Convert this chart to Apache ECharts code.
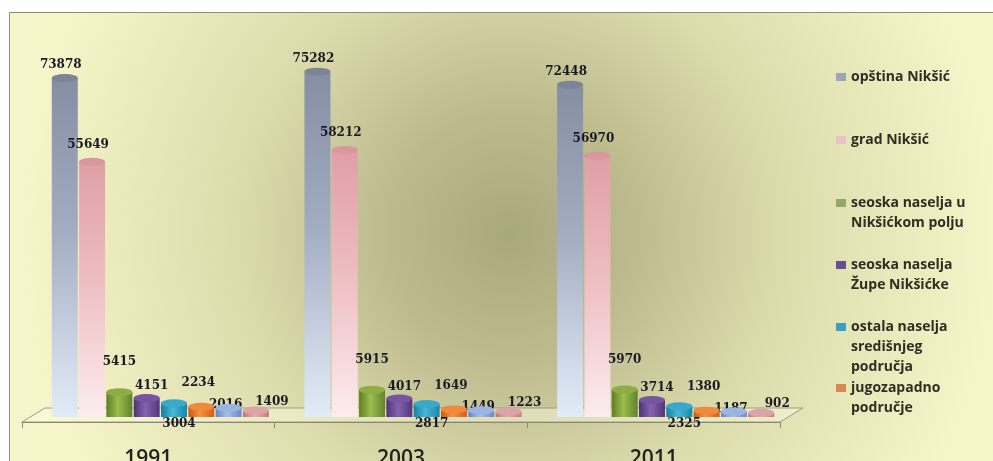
<!DOCTYPE html>
<html>
<head>
<meta charset="utf-8">
<script src="https://cdn.jsdelivr.net/npm/echarts@6/dist/echarts.min.js"></script>
<style>
  html, body { margin: 0; padding: 0; background: #ffffff; }
  #chart { width: 993px; height: 461px; }
</style>
</head>
<body>
<div id="chart"></div>
<script>
// Census years
const categories = ['1991', '2003', '2011'];

// Population by area
const opstinaNiksic = [73878, 75282, 72448];
const gradNiksic = [55649, 58212, 56970];
const seoskaPolje = [5415, 5915, 5970];
const seoskaZupa = [4151, 4017, 3714];
const ostalaSredisnje = [3004, 2817, 2325];
const jugozapadno = [2234, 1649, 1380];
const serija7 = [2016, 1449, 1187];
const serija8 = [1409, 1223, 902];

const seriesNames = [
  'opština Nikšić',
  'grad Nikšić',
  'seoska naselja u Nikšićkom polju',
  'seoska naselja Župe Nikšićke',
  'ostala naselja središnjeg područja',
  'jugozapadno područje',
  '',
  ''
];
const seriesValues = [opstinaNiksic, gradNiksic, seoskaPolje, seoskaZupa,
  ostalaSredisnje, jugozapadno, serija7, serija8];

// Legend text, wrapped as it is printed beside the chart
const legendLines = [
  ['opština Nikšić'],
  ['grad Nikšić'],
  ['seoska naselja u', 'Nikšićkom polju'],
  ['seoska naselja', 'Župe Nikšićke'],
  ['ostala naselja', 'središnjeg', 'područja'],
  ['jugozapadno', 'područje']
];

// Cylinder shading per series
const looks = [
  { fill: { type: 'linear', x: 0, y: 0, x2: 0, y2: 1, colorStops: [
      { offset: 0, color: '#858ea2' }, { offset: 0.45, color: '#a3adc1' }, { offset: 1, color: '#e2ecf8' }] },
    cap: '#7c8598', legend: '#9ea6b6',
    label: { position: 'top', distance: 7, offset: [-4, 0] } },
  { fill: { type: 'linear', x: 0, y: 0, x2: 0, y2: 1, colorStops: [
      { offset: 0, color: '#df9fa5' }, { offset: 0.45, color: '#edbcc0' }, { offset: 1, color: '#fcecee' }] },
    cap: '#d9989e', legend: '#e6c4c6',
    label: { position: 'top', distance: 11, offset: [-4, 0] } },
  { fill: { type: 'linear', x: 0, y: 0, x2: 1, y2: 0, colorStops: [
      { offset: 0, color: '#5f7f22' }, { offset: 0.45, color: '#9cbd4e' }, { offset: 1, color: '#61822a' }] },
    cap: '#8eae45', legend: '#93a86a',
    label: { position: 'top', distance: 24, offset: [0, 0] } },
  { fill: { type: 'linear', x: 0, y: 0, x2: 1, y2: 0, colorStops: [
      { offset: 0, color: '#4f3378' }, { offset: 0.45, color: '#8462b0' }, { offset: 1, color: '#52367c' }] },
    cap: '#7654a2', legend: '#6a5090',
    label: { position: 'top', distance: 6, offset: [5, 0] } },
  { fill: { type: 'linear', x: 0, y: 0, x2: 1, y2: 0, colorStops: [
      { offset: 0, color: '#177f9f' }, { offset: 0.45, color: '#46b8d8' }, { offset: 1, color: '#1a86a6' }] },
    cap: '#3aa8c8', legend: '#3aa0c4',
    label: { position: 'bottom', distance: 1, offset: [5, 0] } },
  { fill: { type: 'linear', x: 0, y: 0, x2: 1, y2: 0, colorStops: [
      { offset: 0, color: '#c85a14' }, { offset: 0.45, color: '#f5933f' }, { offset: 1, color: '#cc5e18' }] },
    cap: '#ee8a3a', legend: '#d88850',
    label: { position: 'top', distance: 18, offset: [-3, 0] } },
  { fill: { type: 'linear', x: 0, y: 0, x2: 1, y2: 0, colorStops: [
      { offset: 0, color: '#6684c2' }, { offset: 0.45, color: '#a6c0ec' }, { offset: 1, color: '#6a88c6' }] },
    cap: '#9ab4e4', legend: '#9ab4e4',
    label: { position: 'top', distance: 0, offset: [-3, 3] } },
  { fill: { type: 'linear', x: 0, y: 0, x2: 1, y2: 0, colorStops: [
      { offset: 0, color: '#b87878' }, { offset: 0.45, color: '#e6b0b0' }, { offset: 1, color: '#bc7c7c' }] },
    cap: '#dca4a4', legend: '#dca4a4',
    label: { position: 'top', distance: 3, offset: [16, 0] } }
];

const labelFont = {
  fontFamily: 'DejaVu Serif',
  fontWeight: 'bold',
  fontSize: 12,
  color: '#1a1a26'
};

const BAR_W = 26;
const BAR_GAP = '5%';

const series = [];
seriesValues.forEach(function (vals, i) {
  const look = looks[i];
  series.push({
    type: 'bar',
    name: seriesNames[i] || undefined,
    xAxisIndex: 0,
    yAxisIndex: 0,
    data: vals,
    barWidth: BAR_W,
    barGap: BAR_GAP,
    itemStyle: { color: look.fill },
    label: Object.assign({ show: true }, look.label, labelFont),
    z: 2
  });
});
// Elliptical caps on the cylinders
seriesValues.forEach(function (vals, i) {
  series.push({
    type: 'pictorialBar',
    xAxisIndex: 0,
    yAxisIndex: 0,
    data: vals,
    barWidth: BAR_W,
    barGap: BAR_GAP,
    symbol: 'circle',
    symbolSize: [BAR_W, 8],
    symbolPosition: 'end',
    symbolOffset: [0, '-50%'],
    itemStyle: { color: looks[i].cap },
    silent: true,
    z: 3
  });
});

// One legend block per entry so each name keeps its own wrapping;
// blank leading lines keep the swatch level with the first printed line
const legendFirstLine = [77, 140, 203, 265, 327, 388];
const LINE_H = 20;
const legends = legendLines.map(function (lines, i) {
  const n = lines.length;
  const text = new Array(n - 1).fill('\u00a0').concat(lines).join('\n');
  return {
    show: true,
    left: 836,
    top: legendFirstLine[i] - LINE_H * n + 10,
    orient: 'vertical',
    padding: 0,
    icon: 'rect',
    itemWidth: 10,
    itemHeight: 8,
    itemGap: 0,
    selectedMode: false,
    data: [{ name: seriesNames[i], itemStyle: { color: looks[i].legend } }],
    formatter: function () { return text; },
    textStyle: {
      fontFamily: 'Open Sans',
      fontWeight: 'bold',
      fontSize: 14,
      color: '#2e2e22',
      lineHeight: LINE_H
    }
  };
});

const chart = echarts.init(document.getElementById('chart'), null, { renderer: 'canvas' });
chart.setOption({
  animation: false,
  graphic: [
    {
      type: 'rect',
      z: -100,
      shape: { x: 9.5, y: 12.5, width: 1000, height: 470 },
      style: {
        fill: {
          type: 'radial', x: 0.5, y: 0.47, r: 1.05,
          colorStops: [
            { offset: 0, color: '#a9a77c' },
            { offset: 0.25, color: '#bdbb8e' },
            { offset: 0.55, color: '#dcdbac' },
            { offset: 1, color: '#f6f6ca' }
          ]
        },
        stroke: '#8c8c84',
        lineWidth: 1
      }
    },
    {
      type: 'polygon',
      z: -50,
      shape: { points: [[45, 408], [803, 408], [780, 422], [22, 422]] },
      style: { fill: 'rgba(250, 250, 225, 0.45)', stroke: '#9c9c84', lineWidth: 1 }
    }
  ],
  legend: legends,
  grid: [
    { left: 34, width: 758, top: 50, bottom: 44, outerBoundsMode: 'none', containLabel: false },
    { left: 22, width: 758, top: 50, bottom: 39, outerBoundsMode: 'none', containLabel: false }
  ],
  xAxis: [
    {
      type: 'category', gridIndex: 0, data: categories,
      axisLine: { show: false }, axisTick: { show: false }, axisLabel: { show: false }
    },
    {
      type: 'category', gridIndex: 1, data: categories,
      axisLine: { show: true, lineStyle: { color: '#8a8a72', width: 1 } },
      axisTick: { show: true, length: 6, lineStyle: { color: '#8a8a72' } },
      axisLabel: {
        margin: 27,
        fontFamily: 'Open Sans',
        fontWeight: 600,
        fontSize: 21,
        color: '#222222'
      }
    }
  ],
  yAxis: [
    { type: 'value', gridIndex: 0, min: 0, max: 80000, show: false, splitLine: { show: false } },
    { type: 'value', gridIndex: 1, min: 0, max: 80000, show: false, splitLine: { show: false } }
  ],
  series: series
});
</script>
</body>
</html>
